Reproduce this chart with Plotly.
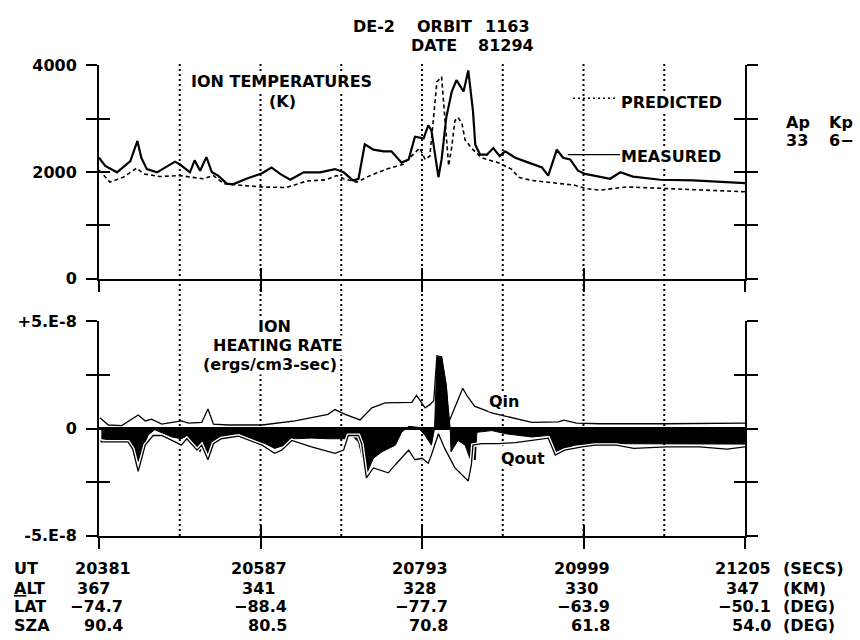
import plotly.graph_objects as go

# ---------------- DATA ----------------
ut_ticks = [20381, 20587, 20793, 20999, 21205]
alt_vals = ["367", "341", "328", "330", "347"]
lat_vals = ["-74.7", "-88.4", "-77.7", "-63.9", "-50.1"]
sza_vals = ["90.4", "80.5", "70.8", "61.8", "54.0"]

# Ion temperature (K)
meas_ut = [20381, 20389, 20404, 20421, 20430, 20435, 20442, 20455, 20478, 20484,
           20497, 20503, 20510, 20518, 20525, 20533, 20544, 20552, 20569, 20589,
           20601, 20612, 20625, 20642, 20663, 20682, 20693, 20705, 20712, 20720,
           20731, 20744, 20754, 20767, 20776, 20784, 20795, 20801, 20805, 20810,
           20814, 20818, 20824, 20831, 20837, 20846, 20852, 20858, 20861, 20867,
           20876, 20884, 20892, 20899, 20912, 20929, 20946, 20954, 20965, 20973,
           20982, 20992, 21001, 21033, 21046, 21062, 21097, 21139, 21174, 21205]
meas_t = [2267, 2115, 1994, 2206, 2582, 2267, 2055, 1994, 2194, 2145,
          1994, 2218, 2024, 2279, 1994, 1933, 1782, 1770, 1873, 1976,
          2085, 1964, 1855, 1994, 1994, 2055, 1994, 1842, 1873, 2521,
          2418, 2388, 2388, 2176, 2236, 2661, 2630, 2873, 2782, 2236,
          1903, 2236, 3024, 3509, 3721, 3509, 3903, 3145, 2509, 2327,
          2327, 2448, 2297, 2388, 2267, 2176, 2085, 1933, 2418, 2267,
          2236, 2024, 1964, 1873, 1994, 1915, 1855, 1842, 1812, 1790]

pred_ut = [20381, 20395, 20412, 20429, 20438, 20459, 20484, 20501, 20514, 20527,
           20540, 20561, 20589, 20620, 20646, 20671, 20684, 20693, 20710, 20727,
           20748, 20769, 20782, 20790, 20797, 20803, 20807, 20812, 20818, 20822,
           20827, 20831, 20835, 20839, 20844, 20848, 20858, 20869, 20890, 20907,
           20916, 20933, 20954, 20975, 20988, 21001, 21020, 21054, 21105, 21160,
           21205]
pred_t = [2036, 1812, 1903, 2073, 1964, 1915, 1933, 1903, 1873, 1933,
          1782, 1752, 1721, 1709, 1830, 1855, 1933, 1873, 1812, 1933,
          2055, 2145, 2327, 2448, 2236, 2297, 2903, 3690, 3782, 3085,
          2115, 2479, 2964, 3024, 2903, 2600, 2418, 2267, 2176, 2055,
          1903, 1842, 1812, 1782, 1752, 1691, 1661, 1721, 1691, 1661,
          1630]

# Ion heating rate (units of 1E-8 ergs/cm3-sec)
qin_ut = [20382, 20393, 20410, 20431, 20440, 20448, 20461, 20486, 20495, 20512,
          20520, 20527, 20546, 20589, 20631, 20652, 20673, 20682, 20695, 20714,
          20729, 20746, 20780, 20786, 20797, 20803, 20808, 20812, 20818, 20824,
          20827, 20845, 20851, 20860, 20882, 20899, 20933, 20967, 20974, 20990,
          21020, 21105, 21205]
qin = [0.51, 0.17, 0.14, 0.64, 0.36, 0.44, 0.21, 0.36, 0.26, 0.29,
       0.92, 0.21, 0.17, 0.17, 0.36, 0.51, 0.67, 0.89, 0.67, 0.41,
       0.97, 1.20, 1.23, 1.55, 0.97, 1.12, 1.30, 3.40, 3.35, 2.00,
       0.29, 1.88, 1.50, 1.05, 0.74, 0.59, 0.29, 0.32, 0.40, 0.26,
       0.23, 0.23, 0.26]

qout_ut = [20383, 20384, 20418, 20424, 20431, 20440, 20450, 20461, 20478, 20486,
           20493, 20506, 20512, 20520, 20527, 20537, 20559, 20589, 20605, 20614,
           20627, 20652, 20682, 20693, 20699, 20712, 20716, 20722, 20731, 20750,
           20759, 20776, 20784, 20793, 20801, 20805, 20814, 20822, 20835, 20844,
           20852, 20856, 20858, 20869, 20890, 20912, 20954, 20963, 20975, 20997,
           21014, 21041, 21063, 21105, 21147, 21182, 21205]
qout = [-0.55, -0.62, -0.62, -0.95, -1.99, -0.77, -0.32, -0.32, -0.62, -0.77,
        -0.47, -1.00, -0.77, -1.45, -0.70, -0.47, -0.35, -0.77, -1.15, -1.00,
        -0.55, -0.85, -1.15, -1.00, -0.32, -0.32, -0.70, -2.29, -1.83, -2.06,
        -1.68, -1.00, -1.45, -1.38, -1.61, -1.23, -0.24, -0.92, -1.83, -2.14,
        -2.44, -1.68, -0.77, -0.70, -0.70, -0.65, -0.44, -1.23, -1.00, -0.85,
        -0.77, -0.77, -0.92, -0.85, -0.85, -0.95, -0.85]

net_ut = [20384, 20401, 20418, 20425, 20431, 20438, 20444, 20452, 20461, 20474,
          20486, 20493, 20503, 20510, 20514, 20520, 20527, 20537, 20559, 20580,
          20593, 20605, 20618, 20631, 20652, 20673, 20695, 20701, 20712, 20722,
          20731, 20742, 20759, 20767, 20776, 20788, 20797, 20805, 20809, 20812,
          20818, 20824, 20829, 20830, 20835, 20839, 20848, 20854, 20861, 20863,
          20882, 20900, 20933, 20954, 20963, 20975, 20988, 21014, 21084, 21147,
          21205]
net = [-0.47, -0.55, -0.55, -1.08, -1.53, -0.77, -0.29, -0.05, -0.20, -0.39,
       -0.47, -0.35, -0.85, -1.08, -0.70, -1.30, -0.62, -0.39, -0.32, -0.55,
       -0.70, -0.92, -0.77, -0.47, -0.44, -0.47, -0.47, -0.24, -0.62, -2.14,
       -1.38, -1.08, -0.77, -0.17, 0.11, 0.06, -0.32, -0.77, 0.0, 3.32,
       3.32, 1.95, 0.0, -1.08, -0.77, -0.55, -0.77, -1.38, -1.45, -0.17,
       -0.09, -0.24, -0.39, -0.32, -1.08, -0.92, -0.77, -0.70, -0.70, -0.72,
       -0.72]

temp_ticks = [0, 1000, 2000, 3000, 4000]
temp_labels = ["0", "", "2000", "", "4000"]
rate_ticks = [-5, -2.5, 0, 2.5, 5]
rate_labels = ["-5.E-8", "", "0", "", "+5.E-8"]

# ---------------- LAYOUT HELPERS ----------------
W, H = 860, 640
FONT = "DejaVu Sans"
FS = 16
TFONT = dict(family=FONT, size=FS, color="black", weight="bold")


def fx(p):
    return p / W


def fy(p):
    return 1 - p / H


X_DOM = [fx(99), fx(745)]
Y1_DOM = [fy(278), fy(58)]
Y2_DOM = [fy(543), fy(322)]

fig = go.Figure()

# top panel
fig.add_trace(go.Scatter(x=pred_ut, y=pred_t, mode="lines", xaxis="x", yaxis="y",
                         line=dict(color="black", width=1.6, dash="4px,3px"),
                         hoverinfo="skip"))
fig.add_trace(go.Scatter(x=meas_ut, y=meas_t, mode="lines", xaxis="x", yaxis="y",
                         line=dict(color="black", width=2.2), hoverinfo="skip"))

# bottom panel
fig.add_trace(go.Scatter(x=net_ut, y=net, mode="lines", xaxis="x2", yaxis="y2",
                         fill="tozeroy", fillcolor="black",
                         line=dict(color="black", width=1), hoverinfo="skip"))
fig.add_trace(go.Scatter(x=qout_ut, y=qout, mode="lines", xaxis="x2", yaxis="y2",
                         line=dict(color="white", width=4), hoverinfo="skip"))
fig.add_trace(go.Scatter(x=qout_ut, y=qout, mode="lines", xaxis="x2", yaxis="y2",
                         line=dict(color="black", width=1.3), hoverinfo="skip"))
fig.add_trace(go.Scatter(x=qin_ut, y=qin, mode="lines", xaxis="x2", yaxis="y2",
                         line=dict(color="black", width=1.3), hoverinfo="skip"))

# empty traces so that the overlay (inside-tick) axes are drawn
for xa, ya in (("x3", "y"), ("x4", "y2"), ("x", "y3"), ("x2", "y4")):
    fig.add_trace(go.Scatter(x=[None], y=[None], xaxis=xa, yaxis=ya, mode="lines",
                             hoverinfo="skip", showlegend=False))

xr = [ut_ticks[0], ut_ticks[-1]]
TL = 11
base = dict(showgrid=False, zeroline=False, linecolor="black", linewidth=2,
            tickcolor="black", tickwidth=2, ticklen=TL, tickfont=TFONT)

fig.update_layout(
    width=W, height=H, margin=dict(l=0, r=0, t=0, b=0),
    paper_bgcolor="white", plot_bgcolor="white", showlegend=False,
    xaxis=dict(domain=X_DOM, range=xr, anchor="y", showline=True, mirror=False,
               tickvals=ut_ticks, ticks="outside", showticklabels=False, **base),
    xaxis2=dict(domain=X_DOM, range=xr, anchor="y2", showline=True, mirror=False,
                tickvals=ut_ticks, ticks="outside", showticklabels=False, **base),
    xaxis3=dict(overlaying="x", anchor="y", range=xr, showline=False,
                tickvals=ut_ticks, ticks="inside", showticklabels=False, **base),
    xaxis4=dict(overlaying="x2", anchor="y2", range=xr, showline=False,
                tickvals=ut_ticks, ticks="inside", showticklabels=False, **base),
    yaxis=dict(domain=Y1_DOM, range=[0, 4000], anchor="x", showline=True,
               mirror="allticks", tickvals=temp_ticks, ticktext=temp_labels,
               ticks="outside", ticklabelstandoff=6, **base),
    yaxis3=dict(overlaying="y", anchor="x", range=[0, 4000], showline=False,
                mirror="allticks", tickvals=temp_ticks, ticks="inside",
                showticklabels=False, **base),
    yaxis2=dict(domain=Y2_DOM, range=[-5, 5], anchor="x2", showline=True,
                mirror="allticks", tickvals=rate_ticks, ticktext=rate_labels,
                ticks="outside", ticklabelstandoff=6,
                **{**base, "zeroline": True}, zerolinecolor="black", zerolinewidth=3),
    yaxis4=dict(overlaying="y2", anchor="x2", range=[-5, 5], showline=False,
                mirror="allticks", tickvals=rate_ticks, ticks="inside",
                showticklabels=False, **base),
)

shapes = []
# dotted verticals every half tick interval through both panels
half = (ut_ticks[1] - ut_ticks[0]) / 2
grid_pos = []
for i in range(len(ut_ticks) - 1):
    grid_pos.append(ut_ticks[i] + half)
    if i > 0:
        grid_pos.append(ut_ticks[i])
for g in grid_pos:
    shapes.append(dict(type="line", xref="x", yref="paper", x0=g, x1=g,
                       y0=fy(543), y1=fy(56), layer="below",
                       line=dict(color="black", width=2, dash="2px,3px")))
# legend key lines
shapes.append(dict(type="line", xref="paper", yref="paper", x0=fx(573), x1=fx(618),
                   y0=fy(92), y1=fy(92), line=dict(color="black", width=1.5, dash="2px,3px")))
shapes.append(dict(type="line", xref="paper", yref="paper", x0=fx(568), x1=fx(620),
                   y0=fy(150), y1=fy(150), line=dict(color="black", width=1.3)))
fig.update_layout(shapes=shapes)

ann = []


def txt(s, x, y, anchor="left", bg=None):
    d = dict(text=s, xref="paper", yref="paper", x=fx(x), y=fy(y),
             xanchor=anchor, yanchor="middle", showarrow=False, font=TFONT,
             borderpad=0)
    if bg:
        d["bgcolor"] = bg
    ann.append(d)


txt("DE-2", 352, 18)
txt("ORBIT", 416, 18)
txt("1163", 484, 18)
txt("DATE", 410, 38)
txt("81294", 477, 38)
txt("ION TEMPERATURES", 190, 75, bg="white")
txt("(K)", 268, 95, bg="white")
txt("PREDICTED", 620, 96, bg="white")
txt("MEASURED", 620, 152, bg="white")
txt("Ap", 785, 117)
txt("Kp", 828, 117)
txt("33", 785, 136)
txt("6\u2212", 828, 136)
txt("ION", 257, 327, bg="white")
txt("HEATING RATE", 212, 347, bg="white")
txt("(ergs/cm3-sec)", 202, 366, bg="white")
txt("Qin", 488, 405, bg="white")
txt("Qout", 500, 463, bg="white")

# bottom table: row labels, values under ticks, units
rows_y = [577, 597, 616, 635]
txt("UT", 13, rows_y[0])
txt("<u>A</u>LT", 13, rows_y[1])
txt("LAT", 13, rows_y[2])
txt("SZA", 13, rows_y[3])
row_vals = [[str(u) for u in ut_ticks], alt_vals, lat_vals, sza_vals]
# right-edge offsets (px) from each tick: first column, other columns
offs = [(34, 28), (13, 16), (26, 28), (26, 28)]
for r, vals in enumerate(row_vals):
    for c, v in enumerate(vals):
        ann.append(dict(text=v.replace("-", "\u2212"), xref="x", yref="paper",
                        x=ut_ticks[c], y=fy(rows_y[r]),
                        xanchor="right", yanchor="middle", showarrow=False,
                        xshift=offs[r][0] if c == 0 else offs[r][1], font=TFONT))
for r, u in enumerate(["(SECS)", "(KM)", "(DEG)", "(DEG)"]):
    txt(u, 782, rows_y[r])

fig.update_layout(annotations=ann)
fig.write_html("out.html")
